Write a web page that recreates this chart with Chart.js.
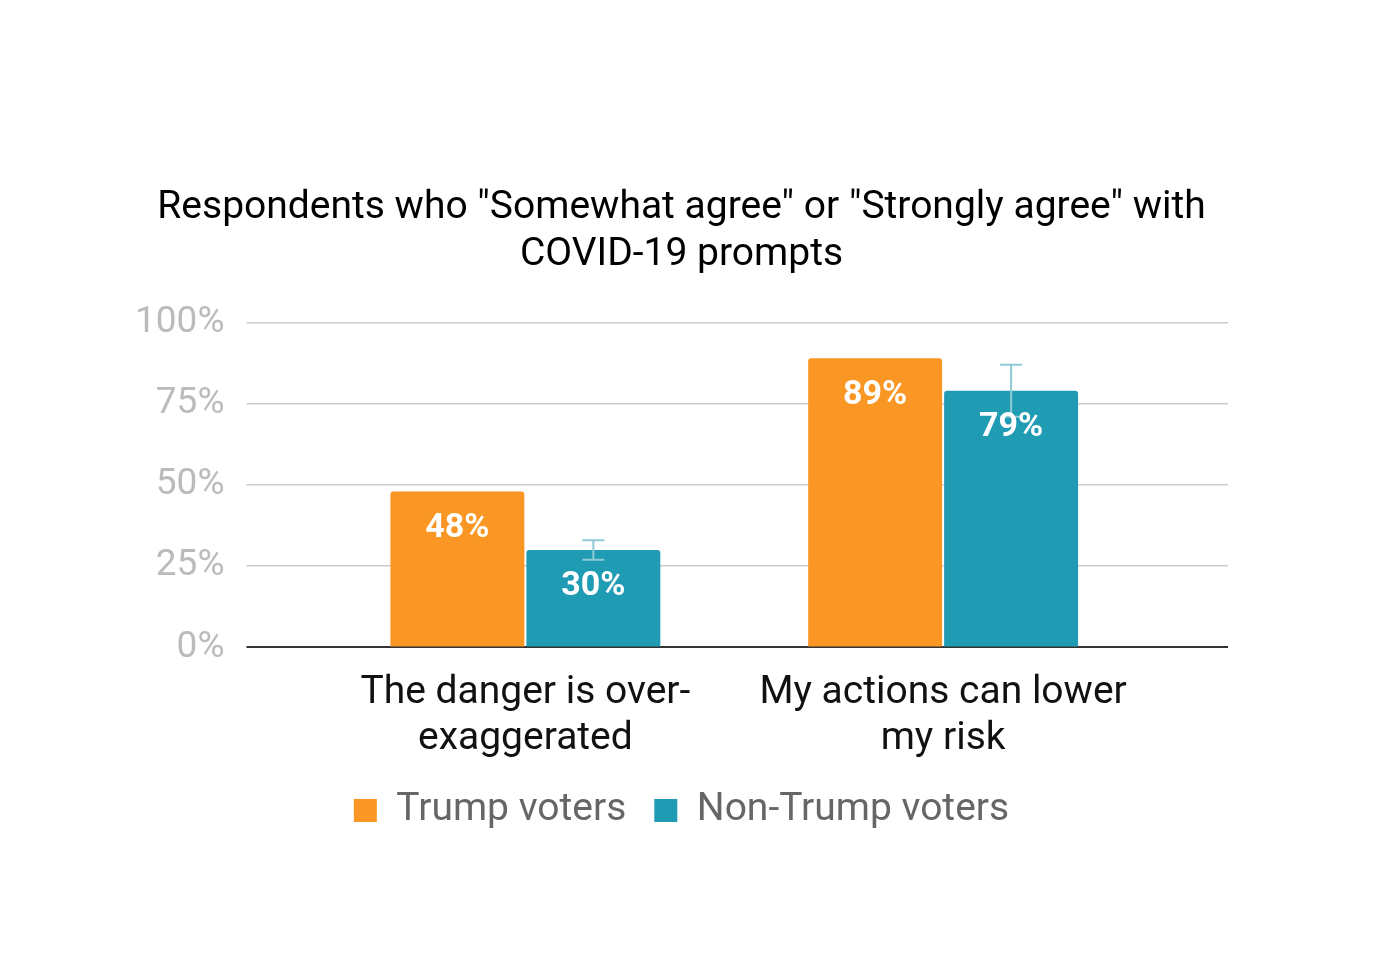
<!DOCTYPE html>
<html>
<head>
<meta charset="utf-8">
<script src="https://cdn.jsdelivr.net/npm/chart.js@4/dist/chart.umd.min.js"></script>
<style>
  html, body { margin: 0; padding: 0; background: #fff; }
  #wrap { width: 1383px; height: 979px; }
</style>
</head>
<body>
<div id="wrap"><canvas id="c" width="1383" height="979"></canvas></div>
<script>
// data
const categories = [['The danger is over-', 'exaggerated'], ['My actions can lower', 'my risk']];
const seriesNames = ['Trump voters', 'Non-Trump voters'];
const trumpValues = [48, 89];
const nonTrumpValues = [30, 79];
const nonTrumpErrors = [3, 8];
const yTicks = [0, 25, 50, 75, 100];

const ORANGE = '#f99624';
const TEAL = '#1f9bb3';

// grid lines: light grey, the zero line dark
const gridColor = ctx => (ctx.tick && ctx.tick.value === 0) ? '#333333' : '#cccccc';
const gridWidth = ctx => (ctx.tick && ctx.tick.value === 0) ? 2 : 1.5;

// error bars on the teal series + value labels inside the bars
const barExtras = {
  id: 'barExtras',
  afterDatasetsDraw(chart) {
    const ctx = chart.ctx;
    const y = chart.scales.y;
    ctx.save();
    ctx.strokeStyle = '#8fcad6';
    ctx.lineWidth = 2;
    chart.getDatasetMeta(1).data.forEach((bar, i) => {
      const v = nonTrumpValues[i], e = nonTrumpErrors[i];
      const top = y.getPixelForValue(v + e);
      const bot = y.getPixelForValue(v - e);
      ctx.beginPath();
      ctx.moveTo(bar.x, top); ctx.lineTo(bar.x, bot);
      ctx.moveTo(bar.x - 11, top); ctx.lineTo(bar.x + 11, top);
      ctx.moveTo(bar.x - 11, bot); ctx.lineTo(bar.x + 11, bot);
      ctx.stroke();
    });
    ctx.restore();

    ctx.save();
    ctx.fillStyle = '#ffffff';
    ctx.font = 'bold 34px Roboto';
    ctx.textAlign = 'center';
    ctx.textBaseline = 'middle';
    chart.data.datasets.forEach((ds, di) => {
      chart.getDatasetMeta(di).data.forEach((bar, i) => {
        ctx.fillText(ds.data[i] + '%', bar.x, bar.y + 37);
      });
    });
    ctx.restore();
  }
};

// chart.js counts tick padding twice when fitting an axis; keep it once
const dropExtraPadding = (scale) => {
  if (scale.isHorizontal()) scale.height -= scale.options.ticks.padding;
  else scale.width -= scale.options.ticks.padding;
};

new Chart(document.getElementById('c'), {
  type: 'bar',
  data: {
    labels: categories,
    datasets: [
      { label: seriesNames[0], data: trumpValues, backgroundColor: ORANGE },
      { label: seriesNames[1], data: nonTrumpValues, backgroundColor: TEAL }
    ]
  },
  options: {
    responsive: false,
    animation: false,
    layout: { padding: { top: 185, left: 135, right: 155, bottom: 139 } },
    datasets: {
      bar: { barPercentage: 0.985, categoryPercentage: 0.651, borderRadius: 3 }
    },
    plugins: {
      title: {
        display: true,
        text: ['Respondents who "Somewhat agree" or "Strongly agree" with', 'COVID-19 prompts'],
        color: '#000',
        font: { family: 'Roboto', size: 39, weight: 'normal', lineHeight: 1.2 },
        padding: { top: 0, bottom: 44 }
      },
      legend: {
        position: 'bottom',
        labels: {
          color: '#666',
          font: { family: 'Roboto', size: 39 },
          boxWidth: 23, boxHeight: 23,
          padding: 28
        }
      },
      tooltip: { enabled: false }
    },
    scales: {
      x: {
        grid: { display: false, drawTicks: false },
        border: { color: '#333', width: 2 },
        ticks: {
          color: '#111',
          font: { family: 'Roboto', size: 39, lineHeight: 1.2 },
          padding: 22, maxRotation: 0, autoSkip: false
        },
        afterFit: dropExtraPadding
      },
      y: {
        min: 0, max: 100,
        afterBuildTicks(scale) { scale.ticks = yTicks.map(v => ({ value: v })); },
        grid: { color: gridColor, lineWidth: gridWidth, drawTicks: true, tickLength: 70 },
        border: { display: false },
        ticks: {
          color: '#bbbbbb',
          font: { family: 'Roboto', size: 37 },
          padding: 22,
          callback: v => v + '%'
        },
        afterFit: dropExtraPadding
      },
      yRight: {
        position: 'right',
        min: 0, max: 100,
        afterBuildTicks(scale) { scale.ticks = yTicks.map(v => ({ value: v })); },
        grid: { color: gridColor, lineWidth: gridWidth, drawOnChartArea: false, drawTicks: true, tickLength: 76 },
        border: { display: false },
        ticks: { display: false }
      }
    }
  },
  plugins: [barExtras]
});
</script>
</body>
</html>
